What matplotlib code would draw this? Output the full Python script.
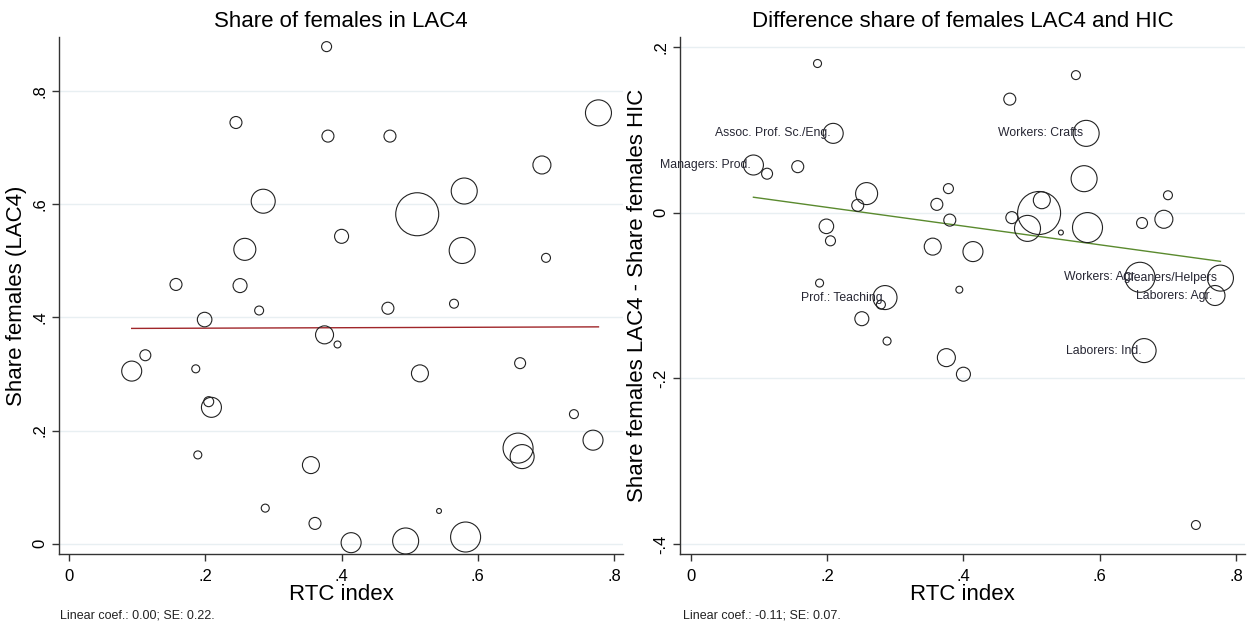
import numpy as np
import matplotlib
matplotlib.use('Agg')
import matplotlib.pyplot as plt

plt.rcParams['font.family'] = ['Liberation Sans', 'DejaVu Sans']

# occupations: RTC index, share of females in LAC4, difference LAC4 - HIC, weight
rtc = [0.092, 0.112, 0.157, 0.186, 0.189, 0.199, 0.205, 0.209, 0.245, 0.251,
       0.258, 0.279, 0.285, 0.288, 0.355, 0.361, 0.375, 0.378, 0.380, 0.394,
       0.400, 0.414, 0.468, 0.471, 0.494, 0.511, 0.515, 0.543, 0.565, 0.577,
       0.580, 0.582, 0.659, 0.662, 0.665, 0.694, 0.700, 0.741, 0.769, 0.777]

share_lac4 = [0.305, 0.333, 0.458, 0.309, 0.157, 0.396, 0.251, 0.241, 0.744, 0.456,
              0.520, 0.412, 0.605, 0.063, 0.139, 0.036, 0.369, 0.878, 0.720, 0.352,
              0.543, 0.002, 0.416, 0.720, 0.005, 0.582, 0.301, 0.058, 0.424, 0.518,
              0.623, 0.012, 0.169, 0.319, 0.154, 0.669, 0.505, 0.229, 0.183, 0.761]

diff_share = [0.0575, 0.047, 0.0555, 0.180, -0.085, -0.0165, -0.034, 0.0957, 0.0088, -0.128,
              0.023, -0.111, -0.1025, -0.155, -0.041, 0.010, -0.175, 0.029, -0.009, -0.093,
              -0.195, -0.047, 0.137, -0.006, -0.019, -0.0004, 0.015, -0.024, 0.166, 0.041,
              0.0957, -0.018, -0.078, -0.0125, -0.1665, -0.008, 0.021, -0.377, -0.100, -0.079]

weight = [100, 30, 36, 16, 16, 53, 25, 100, 36, 49,
          121, 20, 144, 16, 72, 36, 81, 25, 36, 12,
          49, 100, 36, 36, 169, 462, 72, 6, 20, 169,
          169, 225, 225, 30, 144, 81, 20, 20, 100, 169]

labels = {0: 'Managers: Prod.', 7: 'Assoc. Prof. Sc./Eng.', 12: 'Prof.: Teaching',
          30: 'Workers: Crafts', 32: 'Workers: Agr.', 39: 'Cleaners/Helpers',
          38: 'Laborers: Agr.', 34: 'Laborers: Ind.'}

# weighted linear fits (intercept, slope)
fit_left = (0.380, 0.004)
fit_right = (0.029, -0.113)

rtc = np.array(rtc)
sizes = np.array(weight) * 1.44 ** 2

fig = plt.figure(figsize=(12.49, 6.26), dpi=100)
ax1 = fig.add_axes([59 / 1249, 72 / 626, 564 / 1249, 517 / 626])
ax2 = fig.add_axes([680 / 1249, 72 / 626, 565 / 1249, 517 / 626])

grid_col = '#e8eff2'


def style(ax, yticks, ylabels):
    for s in ['top', 'right']:
        ax.spines[s].set_visible(False)
    for s in ['left', 'bottom']:
        ax.spines[s].set_color('#333333')
        ax.spines[s].set_linewidth(1.0)
    ax.set_xticks([0, 0.2, 0.4, 0.6, 0.8])
    ax.set_xticklabels(['0', '.2', '.4', '.6', '.8'], fontsize=12)
    ax.set_yticks(yticks)
    ax.set_yticklabels(ylabels, fontsize=12, rotation=90, va='center')
    ax.tick_params(direction='out', length=5, width=1.0, color='#333333')
    ax.tick_params(axis='x', pad=6)
    ax.grid(axis='y', color=grid_col, linewidth=1.0)
    ax.set_axisbelow(True)
    ax.set_xlabel('RTC index', fontsize=16, labelpad=0)


# left panel
ax1.scatter(rtc, share_lac4, s=sizes, facecolors='none', edgecolors='#222222',
            linewidths=0.8, zorder=3)
xs = np.array([rtc.min(), rtc.max()])
ax1.plot(xs, fit_left[0] + fit_left[1] * xs, color='#a0262a', lw=1.0, zorder=2)
ax1.set_xlim(-0.0147, 0.813)
ax1.set_ylim(-0.018, 0.895)
style(ax1, [0, 0.2, 0.4, 0.6, 0.8], ['0', '.2', '.4', '.6', '.8'])
ax1.set_ylabel('Share females (LAC4)', fontsize=16, labelpad=4)
ax1.set_title('Share of females in LAC4', fontsize=16, pad=7)

# right panel
ax2.scatter(rtc, diff_share, s=sizes, facecolors='none', edgecolors='#222222',
            linewidths=0.8, zorder=3)
ax2.plot(xs, fit_right[0] + fit_right[1] * xs, color='#5a8a2e', lw=1.0, zorder=2)
for i, txt in labels.items():
    ax2.annotate(txt, (rtc[i], diff_share[i]), xytext=(-2, 0), textcoords='offset points',
                 ha='right', va='center', fontsize=8.8, color='#262633', zorder=4)
ax2.set_xlim(-0.0157, 0.813)
ax2.set_ylim(-0.412, 0.212)
style(ax2, [-0.4, -0.2, 0, 0.2], ['-.4', '-.2', '0', '.2'])
ax2.set_ylabel('Share females LAC4 - Share females HIC', fontsize=16, labelpad=4)
ax2.set_title('Difference share of females LAC4 and HIC', fontsize=16, pad=7)

fig.text(60 / 1249, 1 - 616 / 626, 'Linear coef.: 0.00; SE: 0.22.', fontsize=9,
         va='center', ha='left', color='#222222')
fig.text(683 / 1249, 1 - 616 / 626, 'Linear coef.: -0.11; SE: 0.07.', fontsize=9,
         va='center', ha='left', color='#222222')

fig.savefig('out.png', dpi=100)
